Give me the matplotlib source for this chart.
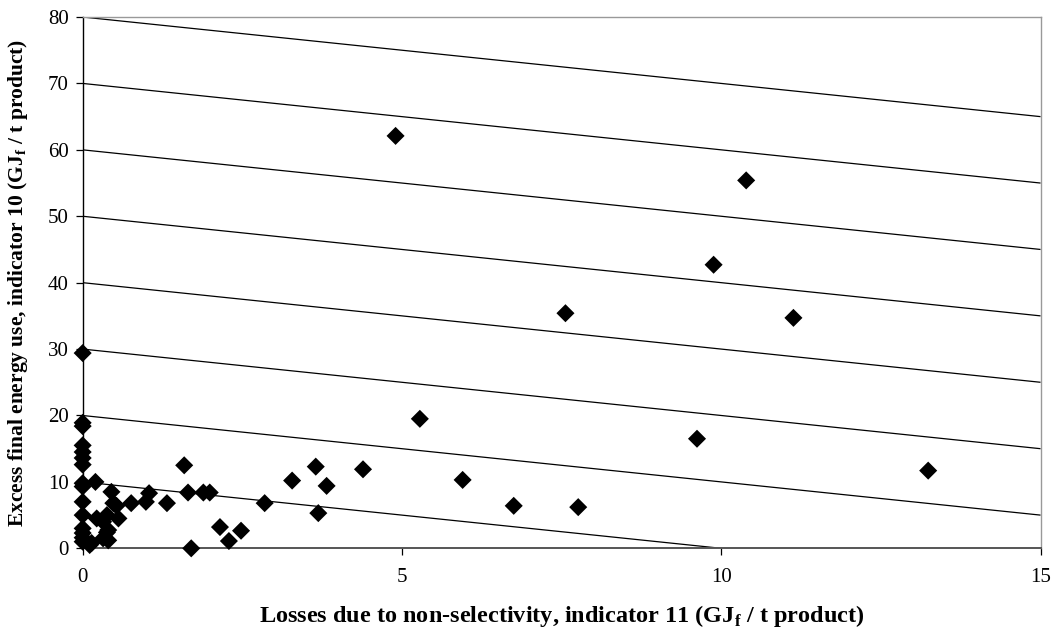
import matplotlib
matplotlib.use("Agg")
import matplotlib.pyplot as plt

plt.rcParams["font.family"] = ["Liberation Serif", "DejaVu Serif"]
plt.rcParams["mathtext.fontset"] = "custom"
plt.rcParams["mathtext.rm"] = "Liberation Serif"
plt.rcParams["mathtext.bf"] = "Liberation Serif:bold"

# Losses due to non-selectivity (indicator 11) per process, GJ_f / t product
losses_x = [
    0.0, 0.0, 0.0, 0.0, 0.0, 0.0, 0.0, 0.0, 0.0, 0.0, 0.0, 0.0, 0.0, 0.0, 0.0,
    0.20, 0.45, 0.48, 0.53, 0.76, 0.99, 1.04, 1.32,
    0.22, 0.38, 0.56, 0.32, 0.40, 0.38, 0.32, 0.40, 0.11, 0.14,
    1.59, 1.65, 1.89, 1.99, 1.70, 2.15, 2.48, 2.29, 2.85,
    3.28, 3.65, 3.82, 3.69, 4.39, 5.28, 5.95, 6.75, 7.76,
    9.62, 13.24,
    4.90, 10.39, 9.88, 7.56, 11.13,
]
# Excess final energy use (indicator 10) per process, GJ_f / t product
excess_y = [
    29.4, 18.9, 18.4, 15.5, 14.5, 13.6, 12.6, 9.8, 9.3, 7.0, 5.0, 3.0, 2.3, 1.6, 1.0,
    10.0, 8.5, 6.8, 6.4, 6.8, 7.0, 8.3, 6.8,
    4.5, 5.0, 4.5, 4.0, 2.75, 2.4, 1.5, 1.2, 0.5, 0.8,
    12.5, 8.4, 8.4, 8.4, 0.0, 3.2, 2.65, 1.1, 6.8,
    10.2, 12.3, 9.4, 5.3, 11.9, 19.5, 10.3, 6.4, 6.2,
    16.5, 11.7,
    62.1, 55.4, 42.7, 35.4, 34.7,
]

# Iso-loss lines: total of both indicators constant (y = total - x)
iso_totals = [10, 20, 30, 40, 50, 60, 70, 80]
x_ticks = [0, 5, 10, 15]
y_ticks = [0, 10, 20, 30, 40, 50, 60, 70, 80]
x_max = 15

fig = plt.figure(figsize=(10.53, 6.35), dpi=100)
ax = fig.add_axes([0.0785, 0.1365, 0.9097, 0.8367])

for total in iso_totals:
    x_end = min(x_max, total)
    ax.plot([0, x_end], [total, total - x_end], color="black", lw=0.9,
            solid_capstyle="butt", zorder=2)

ax.scatter(losses_x, excess_y, marker="D", s=9.2 ** 2, color="black",
           edgecolors="none", zorder=3, clip_on=False)

ax.set_xlim(0, x_max)
ax.set_ylim(0, 80)
ax.set_xticks(x_ticks)
ax.set_yticks(y_ticks)
ax.tick_params(axis="both", labelsize=15, direction="out", length=5,
               width=0.9, color="black", pad=5)
ax.tick_params(axis="x", pad=9)

ax.spines["left"].set_color("black")
ax.spines["left"].set_linewidth(1.0)
ax.spines["bottom"].set_color("#555555")
ax.spines["bottom"].set_linewidth(1.4)
for side in ("top", "right"):
    ax.spines[side].set_color("#999999")
    ax.spines[side].set_linewidth(1.0)

ax.set_xlabel(r"Losses due to non-selectivity, indicator 11 (GJ$_\mathregular{f}$ / t product)",
              fontsize=17.5, fontweight="bold", labelpad=12)
ax.set_ylabel(r"Excess final energy use, indicator 10 (GJ$_\mathregular{f}$ / t product)",
              fontsize=15.5, fontweight="bold", labelpad=13)

fig.savefig("out.png", dpi=100, facecolor="white")
